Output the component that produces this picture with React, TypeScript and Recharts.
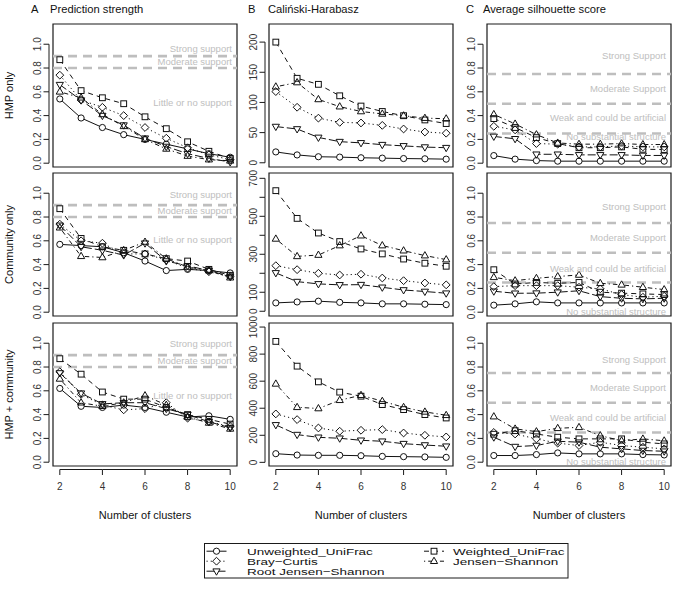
import React from 'react';
import { LineChart, Line, XAxis, YAxis, ReferenceLine, ReferenceArea } from 'recharts';

// ---------- data ----------
const clusters = [2, 3, 4, 5, 6, 7, 8, 9, 10];
const xTicks = [2, 4, 6, 8, 10];

// A: Prediction strength
const psHmpUnweighted = [0.54, 0.38, 0.30, 0.24, 0.20, 0.16, 0.12, 0.08, 0.05];
const psHmpWeighted = [0.87, 0.61, 0.55, 0.50, 0.39, 0.29, 0.18, 0.10, 0.04];
const psHmpBray = [0.74, 0.53, 0.47, 0.40, 0.30, 0.21, 0.13, 0.07, 0.03];
const psHmpJS = [0.60, 0.55, 0.41, 0.31, 0.20, 0.12, 0.06, 0.03, 0.02];
const psHmpRootJS = [0.66, 0.53, 0.40, 0.32, 0.21, 0.14, 0.08, 0.04, 0.01];

const psComUnweighted = [0.57, 0.56, 0.55, 0.50, 0.43, 0.35, 0.36, 0.35, 0.33];
const psComWeighted = [0.87, 0.62, 0.55, 0.52, 0.49, 0.45, 0.43, 0.36, 0.31];
const psComBray = [0.74, 0.60, 0.58, 0.49, 0.49, 0.44, 0.37, 0.34, 0.30];
const psComJS = [0.71, 0.47, 0.46, 0.52, 0.59, 0.45, 0.38, 0.35, 0.29];
const psComRootJS = [0.73, 0.55, 0.52, 0.48, 0.58, 0.43, 0.39, 0.35, 0.30];

const psBothUnweighted = [0.62, 0.47, 0.46, 0.48, 0.46, 0.42, 0.38, 0.39, 0.36];
const psBothWeighted = [0.87, 0.74, 0.59, 0.53, 0.53, 0.46, 0.40, 0.36, 0.32];
const psBothBray = [0.76, 0.57, 0.48, 0.44, 0.45, 0.50, 0.37, 0.34, 0.30];
const psBothJS = [0.70, 0.50, 0.47, 0.50, 0.56, 0.48, 0.38, 0.33, 0.28];
const psBothRootJS = [0.75, 0.58, 0.49, 0.50, 0.50, 0.45, 0.40, 0.34, 0.29];

// B: Calinski-Harabasz
const chHmpUnweighted = [18, 13, 10, 9.4, 8.3, 7.7, 7, 6.6, 6];
const chHmpWeighted = [200, 140, 130, 111, 94, 85, 78, 71, 65];
const chHmpBray = [118, 92, 74, 67, 66, 62, 56, 51, 49];
const chHmpJS = [126, 133, 105, 93, 85, 81, 78, 74, 73];
const chHmpRootJS = [60, 56, 42, 35, 33, 30, 28, 26, 25];

const chComUnweighted = [44, 49, 53, 47, 44, 39, 39, 37, 35];
const chComWeighted = [635, 489, 412, 367, 328, 302, 275, 253, 237];
const chComBray = [240, 219, 200, 191, 195, 175, 161, 149, 139];
const chComJS = [381, 289, 296, 346, 398, 346, 319, 293, 272];
const chComRootJS = [202, 156, 144, 139, 140, 126, 112, 104, 95];

const chBothUnweighted = [64, 54, 52, 52, 49, 44, 42, 40, 37];
const chBothWeighted = [894, 711, 595, 519, 489, 427, 390, 353, 328];
const chBothBray = [358, 316, 254, 230, 237, 242, 217, 200, 188];
const chBothJS = [580, 407, 398, 459, 496, 452, 407, 373, 348];
const chBothRootJS = [277, 205, 185, 178, 163, 156, 138, 128, 119];

// C: Average silhouette score
const silHmpUnweighted = [0.064, 0.034, 0.022, 0.017, 0.017, 0.017, 0.017, 0.017, 0.017];
const silHmpWeighted = [0.375, 0.30, 0.215, 0.165, 0.13, 0.13, 0.137, 0.117, 0.115];
const silHmpBray = [0.31, 0.28, 0.165, 0.16, 0.137, 0.137, 0.145, 0.137, 0.137];
const silHmpJS = [0.41, 0.33, 0.24, 0.17, 0.16, 0.16, 0.165, 0.157, 0.157];
const silHmpRootJS = [0.225, 0.205, 0.075, 0.075, 0.07, 0.07, 0.07, 0.065, 0.065];

const silComUnweighted = [0.059, 0.07, 0.087, 0.078, 0.078, 0.078, 0.078, 0.078, 0.078];
const silComWeighted = [0.357, 0.237, 0.25, 0.243, 0.25, 0.168, 0.16, 0.154, 0.148];
const silComBray = [0.215, 0.223, 0.223, 0.223, 0.21, 0.196, 0.148, 0.126, 0.134];
const silComJS = [0.293, 0.265, 0.285, 0.30, 0.313, 0.243, 0.23, 0.21, 0.19];
const silComRootJS = [0.176, 0.159, 0.16, 0.168, 0.18, 0.131, 0.117, 0.112, 0.117];

const silBothUnweighted = [0.056, 0.056, 0.064, 0.078, 0.07, 0.07, 0.07, 0.064, 0.061];
const silBothWeighted = [0.235, 0.265, 0.237, 0.21, 0.196, 0.196, 0.196, 0.168, 0.154];
const silBothBray = [0.25, 0.237, 0.196, 0.16, 0.14, 0.168, 0.14, 0.126, 0.112];
const silBothJS = [0.383, 0.28, 0.257, 0.285, 0.293, 0.223, 0.18, 0.196, 0.18];
const silBothRootJS = [0.21, 0.131, 0.14, 0.176, 0.168, 0.126, 0.112, 0.098, 0.092];

const psTicks = [0, 0.2, 0.4, 0.6, 0.8, 1.0];
const chHmpTicks = [0, 50, 100, 150, 200];
const chComTicks = [0, 100, 200, 300, 400, 500, 600, 700];
const chComTickLabels = [0, 100, 300, 500, 700];
const chBothTicks = [0, 200, 400, 600, 800, 1000];

const psCutoffs = [0.9, 0.8];
const silCutoffs = [0.75, 0.5, 0.25];
const psNotes = ['Strong support', 'Moderate support', 'Little or no support'];
const silNotes = ['Strong Support', 'Moderate Support', 'Weak and could be artificial', 'No substantial structure'];
const psNoteHmp = [0.96, 0.855, 0.51];
const psNoteCom = [0.985, 0.85, 0.61];
const psNoteBoth = [1.0, 0.857, 0.56];
const silNoteHmp = [0.9, 0.63, 0.38, 0.22];
const silNoteCom = [0.885, 0.628, 0.37, 0.008];
const silNoteBoth = [0.866, 0.628, 0.377, 0.006];

const colTitles = ['Prediction strength', 'Caliński-Harabasz', 'Average silhouette score'];
const colLetters = ['A', 'B', 'C'];
const rowTitles = ['HMP only', 'Community only', 'HMP + community'];
const xTitle = 'Number of clusters';

// ---------- styling ----------
const SERIES = [
  { key: 'unw', name: 'Unweighted_UniFrac', dash: undefined as string | undefined, shape: 'circle' },
  { key: 'w', name: 'Weighted_UniFrac', dash: '5 4', shape: 'square' },
  { key: 'bc', name: 'Bray−Curtis', dash: '1.2 3', shape: 'diamond' },
  { key: 'js', name: 'Jensen−Shannon', dash: '1.2 3 4.5 3', shape: 'triangle' },
  { key: 'rjs', name: 'Root Jensen−Shannon', dash: '8 3', shape: 'nabla' },
];

const FONT = '"Liberation Sans", Arial, Helvetica, sans-serif';
const COL_LEFT = [53, 269, 487];
const ROW_TOP = [24, 173, 323];
const BOX_W = 184;
const BOX_H = 143;
const AXW = 34;
const MT = 14;
const MR = 10;
const MB = 10;
const XH = 40;
const X_DOMAIN: [number, number] = [1.68, 10.32];
const GRAY = '#bebebe';
const INK = '#1a1a1a';

function Marker({ shape, cx, cy, fill, stroke }: { shape: string; cx: number; cy: number; fill: string; stroke: string }) {
  const sw = 1;
  if (shape === 'circle') return <circle cx={cx} cy={cy} r={3.1} fill={fill} stroke={stroke} strokeWidth={sw} />;
  if (shape === 'square') return <rect x={cx - 2.9} y={cy - 2.9} width={5.8} height={5.8} fill={fill} stroke={stroke} strokeWidth={sw} />;
  if (shape === 'diamond')
    return <polygon points={`${cx},${cy - 3.9} ${cx + 3.9},${cy} ${cx},${cy + 3.9} ${cx - 3.9},${cy}`} fill={fill} stroke={stroke} strokeWidth={sw} />;
  if (shape === 'triangle')
    return <polygon points={`${cx},${cy - 4} ${cx + 3.6},${cy + 2.3} ${cx - 3.6},${cy + 2.3}`} fill={fill} stroke={stroke} strokeWidth={sw} />;
  return <polygon points={`${cx},${cy + 4} ${cx + 3.6},${cy - 2.3} ${cx - 3.6},${cy - 2.3}`} fill={fill} stroke={stroke} strokeWidth={sw} />;
}

function makeYTick(labels: number[] | null, fmt: (v: number) => string) {
  let prev: number | null = null;
  return (props: any) => {
    const { x, y, payload, index } = props;
    if (index === 0) prev = null;
    const ax = x - 4;
    const seg = prev !== null ? <line x1={ax} y1={prev} x2={ax} y2={y} stroke={INK} strokeWidth={1} /> : null;
    prev = y;
    const show = !labels || labels.includes(payload.value);
    const tx = x - 11.5;
    return (
      <g key={`yt-${index}`}>
        {seg}
        <line x1={ax} y1={y} x2={ax - 5.5} y2={y} stroke={INK} strokeWidth={1} />
        {show && (
          <text x={tx} y={y} transform={`rotate(-90 ${tx} ${y})`} textAnchor="middle" fontSize={10} fill="#333" fontFamily={FONT}>
            {fmt(payload.value)}
          </text>
        )}
      </g>
    );
  };
}

function makeXTick() {
  let prev: number | null = null;
  return (props: any) => {
    const { x, y, payload, index } = props;
    if (index === 0) prev = null;
    const ay = y + 3.5;
    const seg = prev !== null ? <line x1={prev} y1={ay} x2={x} y2={ay} stroke={INK} strokeWidth={1} /> : null;
    prev = x;
    return (
      <g key={`xt-${index}`}>
        {seg}
        <line x1={x} y1={ay} x2={x} y2={ay + 5.5} stroke={INK} strokeWidth={1} />
        <text x={x} y={y + 24} textAnchor="middle" fontSize={10} fill="#333" fontFamily={FONT}>
          {payload.value}
        </text>
      </g>
    );
  };
}

type PanelSpec = {
  col: number;
  row: number;
  values: number[][];
  yDomain: [number, number];
  yTicks: number[];
  yLabels: number[] | null;
  fmt: (v: number) => string;
  cutoffs: number[];
  notes: string[];
  notePos: number[];
};

const fmt1 = (v: number) => v.toFixed(1);
const fmt0 = (v: number) => String(v);
const PS_DOMAIN: [number, number] = [-0.032, 1.17];

const PANELS: PanelSpec[] = [
  { col: 0, row: 0, values: [psHmpUnweighted, psHmpWeighted, psHmpBray, psHmpJS, psHmpRootJS], yDomain: PS_DOMAIN, yTicks: psTicks, yLabels: null, fmt: fmt1, cutoffs: psCutoffs, notes: psNotes, notePos: psNoteHmp },
  { col: 0, row: 1, values: [psComUnweighted, psComWeighted, psComBray, psComJS, psComRootJS], yDomain: PS_DOMAIN, yTicks: psTicks, yLabels: null, fmt: fmt1, cutoffs: psCutoffs, notes: psNotes, notePos: psNoteCom },
  { col: 0, row: 2, values: [psBothUnweighted, psBothWeighted, psBothBray, psBothJS, psBothRootJS], yDomain: PS_DOMAIN, yTicks: psTicks, yLabels: null, fmt: fmt1, cutoffs: psCutoffs, notes: psNotes, notePos: psNoteBoth },
  { col: 1, row: 0, values: [chHmpUnweighted, chHmpWeighted, chHmpBray, chHmpJS, chHmpRootJS], yDomain: [-7, 230], yTicks: chHmpTicks, yLabels: null, fmt: fmt0, cutoffs: [], notes: [], notePos: [] },
  { col: 1, row: 1, values: [chComUnweighted, chComWeighted, chComBray, chComJS, chComRootJS], yDomain: [-25, 728], yTicks: chComTicks, yLabels: chComTickLabels, fmt: fmt0, cutoffs: [], notes: [], notePos: [] },
  { col: 1, row: 2, values: [chBothUnweighted, chBothWeighted, chBothBray, chBothJS, chBothRootJS], yDomain: [-27, 1030], yTicks: chBothTicks, yLabels: null, fmt: fmt0, cutoffs: [], notes: [], notePos: [] },
  { col: 2, row: 0, values: [silHmpUnweighted, silHmpWeighted, silHmpBray, silHmpJS, silHmpRootJS], yDomain: PS_DOMAIN, yTicks: psTicks, yLabels: null, fmt: fmt1, cutoffs: silCutoffs, notes: silNotes, notePos: silNoteHmp },
  { col: 2, row: 1, values: [silComUnweighted, silComWeighted, silComBray, silComJS, silComRootJS], yDomain: PS_DOMAIN, yTicks: psTicks, yLabels: null, fmt: fmt1, cutoffs: silCutoffs, notes: silNotes, notePos: silNoteCom },
  { col: 2, row: 2, values: [silBothUnweighted, silBothWeighted, silBothBray, silBothJS, silBothRootJS], yDomain: PS_DOMAIN, yTicks: psTicks, yLabels: null, fmt: fmt1, cutoffs: silCutoffs, notes: silNotes, notePos: silNoteBoth },
];

function Panel({ p }: { p: PanelSpec }) {
  const showX = p.row === 2;
  const data = clusters.map((k, i) => {
    const r: any = { k };
    SERIES.forEach((s, j) => {
      r[s.key] = p.values[j][i];
    });
    return r;
  });
  const left = COL_LEFT[p.col] - AXW;
  const top = ROW_TOP[p.row] - MT;
  return (
    <div style={{ position: 'absolute', left, top }}>
      <LineChart
        width={AXW + BOX_W + MR}
        height={MT + BOX_H + (showX ? XH : MB)}
        data={data}
        margin={{ top: MT, right: MR, left: 0, bottom: showX ? 0 : MB }}
        style={{ overflow: 'visible' }}
      >
        <XAxis
          type="number"
          dataKey="k"
          domain={X_DOMAIN}
          ticks={xTicks}
          allowDataOverflow
          interval={0}
          hide={!showX}
          height={XH}
          tickSize={0}
          tickMargin={0}
          axisLine={false}
          tickLine={false}
          tick={makeXTick()}
        />
        <YAxis
          type="number"
          domain={p.yDomain}
          ticks={p.yTicks}
          allowDataOverflow
          interval={0}
          width={AXW}
          tickSize={0}
          tickMargin={0}
          axisLine={false}
          tickLine={false}
          tick={makeYTick(p.yLabels, p.fmt)}
        />
        {p.cutoffs.map((c) => (
          <ReferenceLine key={`c-${c}`} y={c} stroke={GRAY} strokeWidth={2.6} strokeDasharray="9 6" />
        ))}
        {p.notes.map((n, i) => (
          <ReferenceLine
            key={`n-${i}`}
            y={p.notePos[i]}
            stroke="none"
            label={{ value: n, position: 'insideRight', offset: 5, fill: GRAY, fontSize: 9.5, fontFamily: FONT }}
          />
        ))}
        {SERIES.map((s) => (
          <Line
            key={`l-${s.key}`}
            dataKey={s.key}
            stroke="#111"
            strokeWidth={1}
            strokeDasharray={s.dash}
            dot={false}
            activeDot={false}
            isAnimationActive={false}
          />
        ))}
        {SERIES.map((s) => (
          <Line
            key={`f-${s.key}`}
            dataKey={s.key}
            stroke="none"
            activeDot={false}
            isAnimationActive={false}
            dot={(d: any) => <Marker key={`fd-${s.key}-${d.index}`} shape={s.shape} cx={d.cx} cy={d.cy} fill="#fff" stroke="none" />}
          />
        ))}
        {SERIES.map((s) => (
          <Line
            key={`o-${s.key}`}
            dataKey={s.key}
            stroke="none"
            activeDot={false}
            isAnimationActive={false}
            dot={(d: any) => <Marker key={`od-${s.key}-${d.index}`} shape={s.shape} cx={d.cx} cy={d.cy} fill="none" stroke="#111" />}
          />
        ))}
        <ReferenceArea
          x1={X_DOMAIN[0]}
          x2={X_DOMAIN[1]}
          y1={p.yDomain[0]}
          y2={p.yDomain[1]}
          fill="none"
          fillOpacity={0}
          stroke={INK}
          strokeWidth={1.2}
          ifOverflow="visible"
        />
      </LineChart>
    </div>
  );
}

const LEGEND_ROWS = [
  [0, 1],
  [2, 3],
  [4, -1],
];

function Legend() {
  const boxX = 204.5;
  const boxY = 543.5;
  const colSym = [216.5, 434];
  const colText = [247, 453];
  const rowBase = [554.6, 564.6, 574.6];
  return (
    <g>
      <rect x={boxX} y={boxY} width={363.5} height={34.5} fill="#fff" stroke={INK} strokeWidth={1} />
      {LEGEND_ROWS.map((r, ri) =>
        r.map((si, ci) => {
          if (si < 0) return null;
          const s = SERIES[si];
          const cx = colSym[ci];
          const cy = rowBase[ri] - 3.4;
          return (
            <g key={`lg-${si}`}>
              <line x1={cx - 10} y1={cy} x2={cx + 10} y2={cy} stroke="#111" strokeWidth={1} strokeDasharray={s.dash} />
              <Marker shape={s.shape} cx={cx} cy={cy} fill="#fff" stroke="#111" />
              <text
                transform={`translate(${colText[ci]} ${rowBase[ri]}) scale(1.42 1)`}
                x={0}
                y={0}
                fontSize={9.5}
                fill="#111"
                fontFamily={FONT}
              >
                {s.name}
              </text>
            </g>
          );
        })
      )}
    </g>
  );
}

export default function App() {
  return (
    <div style={{ position: 'absolute', left: 0, top: 0, width: 676, height: 595, background: '#fff', fontFamily: FONT }}>
      {PANELS.map((p) => (
        <Panel key={`${p.col}-${p.row}`} p={p} />
      ))}
      <svg width={676} height={595} style={{ position: 'absolute', left: 0, top: 0, pointerEvents: 'none' }}>
        {colTitles.map((t, i) => (
          <g key={`ct-${i}`}>
            <text x={[31, 248, 466][i]} y={12.5} fontSize={11.2} fill="#111" fontFamily={FONT}>
              {colLetters[i]}
            </text>
            <text x={[50, 268, 483][i]} y={12.5} fontSize={11.2} fill="#111" fontFamily={FONT}>
              {t}
            </text>
          </g>
        ))}
        {rowTitles.map((t, i) => {
          const cy = ROW_TOP[i] + BOX_H / 2;
          return (
            <text key={`rt-${i}`} x={13} y={cy} transform={`rotate(-90 13 ${cy})`} textAnchor="middle" fontSize={11} fill="#111" fontFamily={FONT}>
              {t}
            </text>
          );
        })}
        {COL_LEFT.map((l, i) => (
          <text key={`xt-${i}`} x={l + BOX_W / 2} y={519} textAnchor="middle" fontSize={11} fill="#111" fontFamily={FONT}>
            {xTitle}
          </text>
        ))}
        <Legend />
      </svg>
    </div>
  );
}
